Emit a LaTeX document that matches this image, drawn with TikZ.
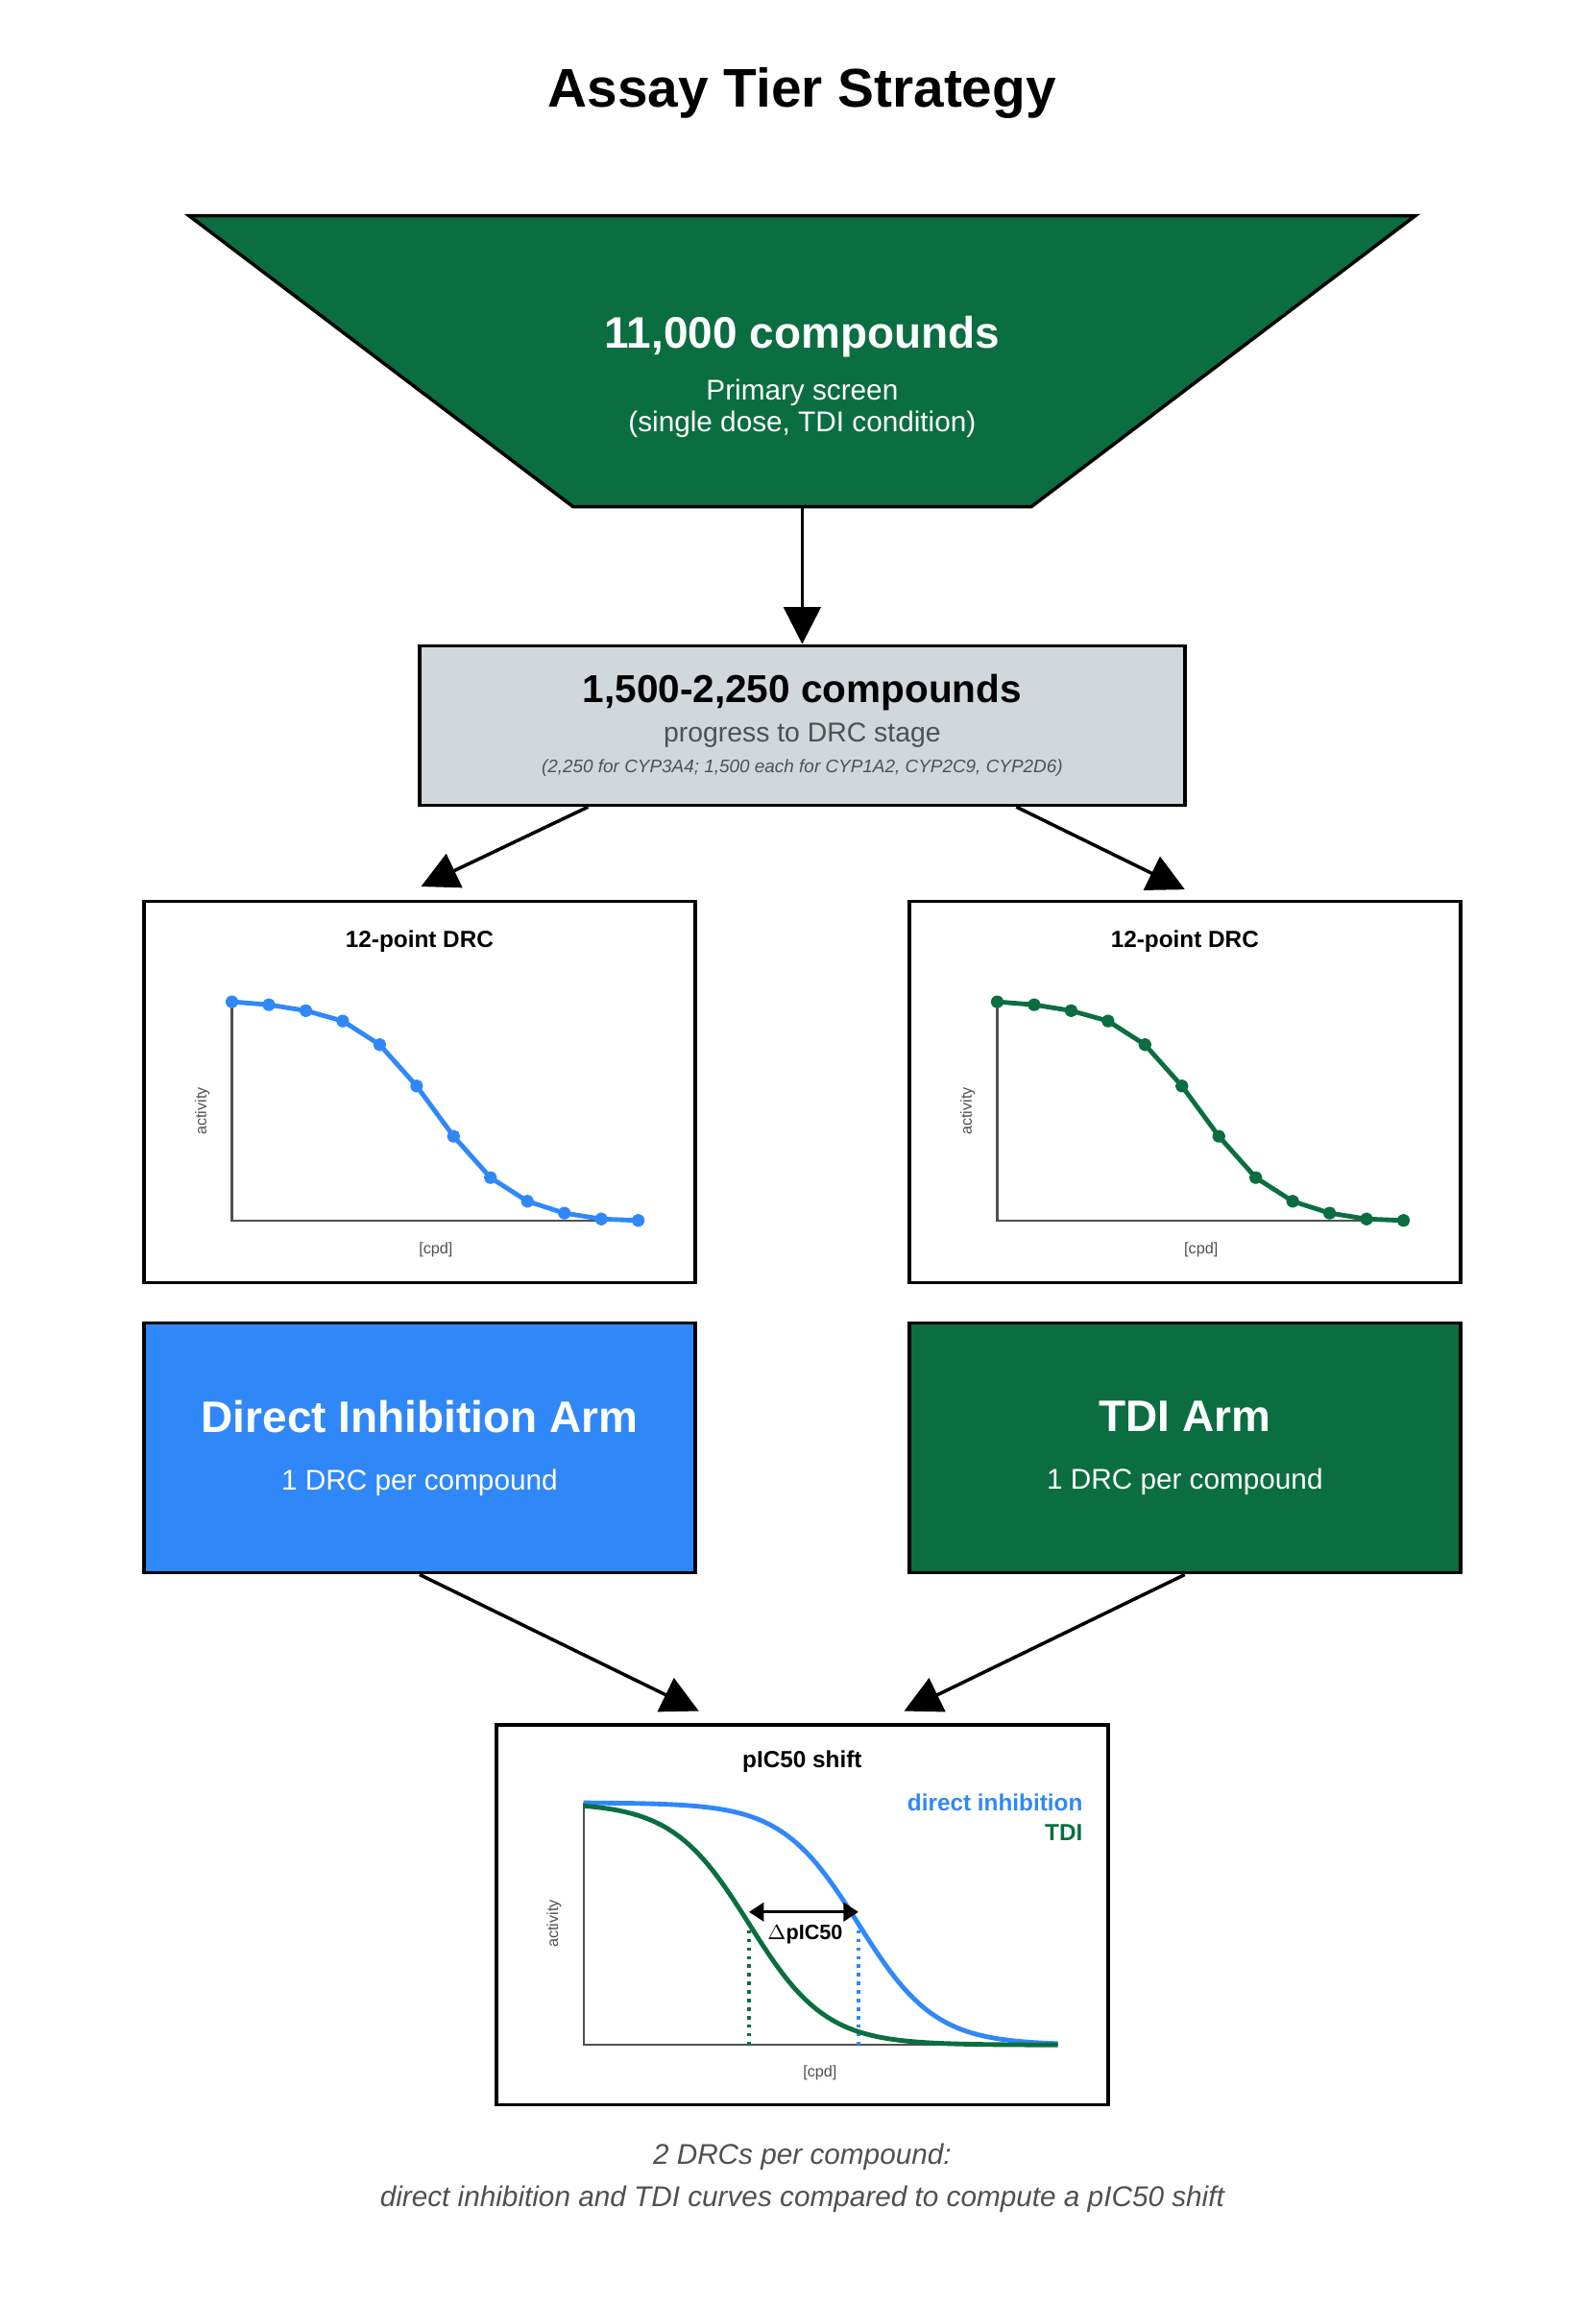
\documentclass[tikz,border=0pt]{standalone}
\usepackage{fontspec}
\setmainfont{Liberation Sans}
\usetikzlibrary{arrows.meta}
\definecolor{tgreen}{RGB}{11,110,64}
\definecolor{tblue}{RGB}{48,136,248}
\definecolor{tgray}{RGB}{208,216,220}
\definecolor{ttext}{RGB}{80,80,80}
\tikzset{
    box/.style = {draw=black, line width=1.3pt},
    flow/.style = {-{Triangle[length=5mm,width=5mm]}, line width=1.3pt},
    curve/.style = {line width=1.8pt, line join=round},
    axis/.style = {draw=ttext, line width=0.8pt},
    axlabel/.style = {font=\fontsize{6}{7}\selectfont, text=ttext},
    ptitle/.style = {font=\fontsize{9}{11}\selectfont\bfseries}
}
\begin{document}
\begin{tikzpicture}[x=0.02cm,y=-0.02cm]
    \useasboundingbox (0,0) rectangle (1080,1560);
    \node (title) at (543,63) {\fontsize{21}{25}\selectfont\bfseries Assay Tier Strategy};
    % primary screen
    \draw[box, fill=tgreen] (128,146) -- (958,146) -- (698,343) -- (388,343) -- cycle;
    \node[white, align=center] (primary) at (543,255)
        {\fontsize{17}{20}\selectfont\bfseries 11,000 compounds\\[8pt]
         \fontsize{11}{16}\selectfont Primary screen\\
         \fontsize{11}{16}\selectfont (single dose, TDI condition)};
    \coordinate (funbot) at (543,343);
    % DRC stage
    \node[box, fill=tgray, minimum width=518*0.02cm, minimum height=108*0.02cm,
          align=center, inner sep=0pt] (drc) at (543,491)
        {\fontsize{15}{18}\selectfont\bfseries 1,500-2,250 compounds\\[3pt]
         {\fontsize{10.5}{13}\selectfont\color{ttext} progress to DRC stage}\\
         {\fontsize{7}{9}\selectfont\itshape\color{ttext} (2,250 for CYP3A4; 1,500 each for CYP1A2, CYP2C9, CYP2D6)}};
    \draw[flow] (funbot) -- (drc.north);
    % DRC panels
    \foreach \name/\cx/\col in {drcl/284/tblue, drcr/802/tgreen}{
        \node[box, minimum width=373*0.02cm, minimum height=258*0.02cm] (\name) at (\cx,739) {};
        \node[ptitle] (\name-t) at (\cx,637) {12-point DRC};
        \draw[axis] (\cx-127,678) -- (\cx-127,826) -- (\cx+148,826);
        \node[axlabel, rotate=90] (\name-y) at (\cx-147,752) {activity};
        \node[axlabel] (\name-x) at (\cx+11,846) {[cpd]};
        \draw[curve, \col] plot[mark=*, mark size=1.6pt] coordinates {
            (\cx-127,678) (\cx-102,680) (\cx-77,684) (\cx-52,691) (\cx-27,707) (\cx-2,735)
            (\cx+23,769) (\cx+48,797) (\cx+73,813) (\cx+98,821) (\cx+123,825) (\cx+148,826)};
    }
    \draw[flow] (drc.south -| 398,0) -- (285,600);
    \draw[flow] (drc.south -| 688,0) -- (802,602);
    % arms
    \node[box, fill=tblue, text=white, minimum width=373*0.02cm, minimum height=169*0.02cm, align=center] (direct) at (284,980)
        {\fontsize{17}{20}\selectfont\bfseries Direct Inhibition Arm\\[10pt]\fontsize{11}{13}\selectfont 1 DRC per compound};
    \node[box, fill=tgreen, text=white, minimum width=373*0.02cm, minimum height=169*0.02cm, align=center] (tdi) at (802,980)
        {\fontsize{17}{20}\selectfont\bfseries TDI Arm\\[10pt]\fontsize{11}{13}\selectfont 1 DRC per compound};
    % shift panel
    \node[box, minimum width=414*0.02cm, minimum height=257*0.02cm] (shift) at (543,1296) {};
    \draw[flow] (direct.south) -- (473,1158);
    \draw[flow] (tdi.south) -- (612,1158);
    \node[ptitle] (shift-t) at (543,1192) {pIC50 shift};
    \draw[axis] (395,1220) -- (395,1384) -- (716,1384);
    \node[axlabel, rotate=90] (shift-y) at (375,1302) {activity};
    \node[axlabel] (shift-x) at (555,1403) {[cpd]};
    \draw[tgreen, line width=1.3pt, dotted] (507,1384) -- (507,1302);
    \draw[tblue, line width=1.3pt, dotted] (581,1384) -- (581,1302);
    \draw[curve, tblue] plot[domain=395:716, samples=80] (\x, {1384-164/(1+exp((\x-581)/26))});
    \draw[curve, tgreen] plot[domain=395:716, samples=80] (\x, {1384-164/(1+exp((\x-507)/26))});
    \coordinate (ic-tdi) at (507,1294);
    \coordinate (ic-dir) at (581,1294);
    \draw[{Triangle[length=2mm,width=2.5mm]}-{Triangle[length=2mm,width=2.5mm]}, line width=1.2pt] (ic-tdi) -- (ic-dir);
    \node[font=\fontsize{8}{10}\selectfont\bfseries] (delta) at (545,1309) {$\Delta$pIC50};
    \node[anchor=east, text=tblue, font=\fontsize{9}{11}\selectfont\bfseries] (leg-d) at (739,1220) {direct inhibition};
    \node[anchor=east, text=tgreen, font=\fontsize{9}{11}\selectfont\bfseries] (leg-t) at (739,1240) {TDI};
    % caption
    \node[text=ttext, align=center, font=\fontsize{11}{16}\selectfont\itshape] (caption) at (543,1474)
        {2 DRCs per compound:\\direct inhibition and TDI curves compared to compute a pIC50 shift};
\end{tikzpicture}
\end{document}
